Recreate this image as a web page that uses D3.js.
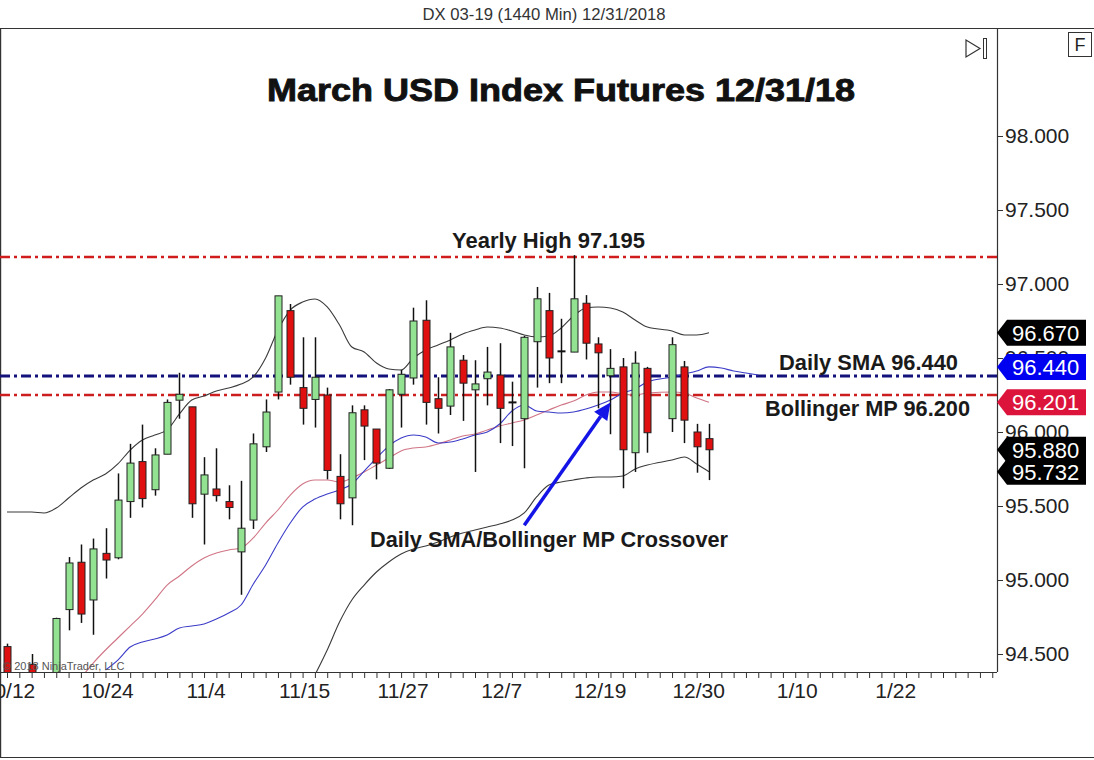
<!DOCTYPE html>
<html><head><meta charset="utf-8">
<script src="https://cdn.jsdelivr.net/npm/d3@7"></script>
<style>
html,body{margin:0;padding:0;background:#fff;}
svg{display:block;font-family:"Liberation Sans",Arial,sans-serif;}
</style></head><body>
<svg id="c" width="1094" height="760"></svg>
<script>
// ---- data (one entry per daily bar slot; null = no bar) ----
const openP  = [94.55,null,94.43,null,94.30,94.80,95.12,94.865,95.18,95.15,95.53,95.80,95.61,95.85,96.215,96.17,95.58,95.615,95.53,95.19,95.405,95.90,96.27,96.82,96.30,96.22,96.25,95.70,95.555,96.15,96.02,95.755,96.255,96.365,96.755,96.225,96.175,96.485,96.285,96.36,96.385,96.205,96.09,96.61,96.82,96.545,96.54,96.87,96.595,96.38,96.44,95.86,96.43,null,96.09,96.44,96.00,95.955];
const highP  = [94.57,null,94.50,null,94.745,95.155,95.24,95.28,95.35,95.72,95.92,96.05,95.89,96.22,96.40,96.17,95.83,95.89,95.64,95.67,95.99,96.22,96.92,96.865,96.64,96.64,96.30,95.85,96.18,96.18,96.02,96.29,96.42,96.84,96.89,96.37,96.67,96.52,96.485,96.575,96.60,96.34,96.65,96.98,96.94,96.765,97.195,96.925,96.64,96.56,96.50,96.545,96.44,null,96.64,96.48,96.055,96.055];
const lowP   = [94.20,null,94.20,null,94.20,94.66,94.71,94.63,95.01,95.14,95.42,95.49,95.57,95.85,96.09,95.42,95.24,95.53,95.41,94.90,95.345,95.865,96.22,96.32,96.05,96.03,95.68,95.41,95.37,95.81,95.68,95.75,96.03,96.32,96.05,95.99,96.115,96.075,95.73,96.18,95.925,95.905,95.755,96.30,96.33,96.33,96.54,96.49,96.16,95.985,95.62,95.73,95.86,null,96.00,95.925,95.725,95.675];
const closeP = [94.30,null,94.30,null,94.74,95.115,94.77,95.21,95.135,95.54,95.79,95.55,95.845,96.20,96.255,95.515,95.71,95.57,95.49,95.35,95.92,96.135,96.92,96.37,96.16,96.37,95.74,95.515,96.13,96.04,95.79,96.285,96.39,96.75,96.20,96.16,96.575,96.33,96.325,96.405,96.16,96.20,96.64,96.90,96.50,96.545,96.90,96.60,96.535,96.43,95.88,96.465,95.995,null,96.59,96.08,95.90,95.88];

const upperBand = [95.459,95.459,95.459,95.453,95.486,95.554,95.622,95.676,95.716,95.784,95.878,95.946,95.980,96.014,96.122,96.216,96.243,96.277,96.297,96.324,96.372,96.500,96.689,96.824,96.878,96.899,96.845,96.723,96.574,96.541,96.466,96.426,96.419,96.500,96.554,96.588,96.622,96.662,96.689,96.709,96.703,96.682,96.655,96.642,96.649,96.703,96.784,96.838,96.845,96.838,96.811,96.757,96.709,null,96.682,96.655,96.655,96.670];
const bollMid   = [null,null,null,null,null,null,94.338,94.439,94.527,94.608,94.689,94.770,94.865,94.966,95.027,95.095,95.149,95.182,95.203,95.216,95.284,95.385,95.473,95.574,95.649,95.676,95.676,95.662,95.689,95.730,95.777,95.824,95.872,95.892,95.899,95.919,95.946,95.973,95.986,96.014,96.041,96.061,96.081,96.115,96.149,96.182,96.209,96.250,96.270,96.270,96.257,96.250,96.264,null,96.270,96.264,96.230,96.201];
const dailySMA  = [null,null,null,null,null,null,null,null,94.392,94.459,94.547,94.581,94.601,94.628,94.676,94.689,94.703,94.736,94.777,94.831,94.973,95.101,95.250,95.385,95.493,95.547,95.581,95.608,95.649,95.736,95.824,95.905,95.959,95.980,95.966,95.926,95.932,95.953,95.980,96.000,96.054,96.142,96.182,96.142,96.135,96.128,96.135,96.155,96.182,96.216,96.264,96.291,96.338,null,96.372,96.392,96.412,96.440,96.432,96.412,96.399,96.385];
const lowerBand = [null,null,null,null,null,null,null,null,null,null,null,null,null,null,null,null,null,null,null,null,null,null,null,null,null,94.358,94.527,94.716,94.865,94.966,95.054,95.122,95.176,95.209,95.230,95.257,95.291,95.318,95.338,95.358,95.378,95.405,95.453,95.561,95.642,95.662,95.676,95.689,95.696,95.696,95.703,95.750,95.777,null,95.811,95.831,95.784,95.732];

const tickLabels = ["10/12","10/24","11/4","11/15","11/27","12/7","12/19","12/30","1/10","1/22"];
const priceTicks = [94.5,95.0,95.5,96.0,96.5,97.0,97.5,98.0];

const levelValues = [97.182, 96.378, 96.250];
const levelNames  = ["yearly","sma","mp"];
const annotationTexts = ["Yearly High 97.195","Daily SMA 96.440","Bollinger MP 96.200","Daily SMA/Bollinger MP Crossover"];

const badgeValues = [96.670, 96.440, 96.201, 95.732, 95.880];
const badgeKinds  = ["band","sma","mp","band","last"];

const arrowFrom = [42, 95.37];
const arrowTo   = [49, 96.20];

// ---- layout ----
const svg = d3.select("#c");
const PL = 0, PR = 997, PT = 28, PB = 672;
const x = d3.scaleLinear().domain([0,57]).range([7,709]);
const y = d3.scaleLinear().domain([94.5,98]).range([654,136]);

svg.append("rect").attr("width",1094).attr("height",760).attr("fill","#fff");

// header
svg.append("text").attr("x",544).attr("y",20).attr("text-anchor","middle")
  .attr("font-size",17).attr("fill","#333").attr("textLength",243).attr("lengthAdjust","spacingAndGlyphs")
  .text("DX 03-19 (1440 Min)  12/31/2018");

// frame lines
const frame = svg.append("g").attr("stroke","#333").attr("stroke-width",1.2).attr("fill","none");
frame.append("line").attr("x1",0).attr("x2",1094).attr("y1",28.5).attr("y2",28.5);
frame.append("line").attr("x1",0.6).attr("x2",0.6).attr("y1",28).attr("y2",758);
frame.append("line").attr("x1",0).attr("x2",1094).attr("y1",757.5).attr("y2",757.5);
frame.append("line").attr("x1",PR+0.5).attr("x2",PR+0.5).attr("y1",28).attr("y2",PB);
frame.append("line").attr("x1",0).attr("x2",PR).attr("y1",PB+0.5).attr("y2",PB+0.5);

// clip
svg.append("defs").append("clipPath").attr("id","plot").append("rect")
  .attr("x",PL).attr("y",PT).attr("width",PR-PL).attr("height",PB-PT);
const plot = svg.append("g").attr("clip-path","url(#plot)");

// title
svg.append("text").attr("x",561).attr("y",101).attr("text-anchor","middle")
  .attr("font-size",32).attr("font-weight","bold").attr("fill","#111")
  .attr("stroke","#111").attr("stroke-width",0.9)
  .attr("textLength",588).attr("lengthAdjust","spacingAndGlyphs")
  .text("March USD Index Futures 12/31/18");

// horizontal level lines
const levelStyle = {
  yearly:{color:"#d01c1c", w:2.6},
  sma:{color:"#12127a", w:3},
  mp:{color:"#cc1e1e", w:2.6}
};
levelValues.forEach((v,k)=>{
  const s = levelStyle[levelNames[k]];
  plot.append("line").attr("x1",PL).attr("x2",PR).attr("y1",y(v)).attr("y2",y(v))
    .attr("stroke",s.color).attr("stroke-width",s.w).attr("stroke-dasharray","10,4,3,4");
});

// indicator lines
function series(arr){ return arr.map((v,i)=>[i,v]).filter(d=>d[1]!=null); }
const lg = d3.line().x(d=>x(d[0])).y(d=>y(d[1])).curve(d3.curveMonotoneX);
[[upperBand,"#3a3a3a"],[lowerBand,"#3a3a3a"],[bollMid,"#d07585"],[dailySMA,"#3c3cc8"]].forEach(([arr,c])=>{
  plot.append("path").attr("d",lg(series(arr))).attr("fill","none").attr("stroke",c).attr("stroke-width",1.1);
});

// candles
const bw = 7;
const candles = openP.map((o,i)=>({i,o,h:highP[i],l:lowP[i],c:closeP[i]})).filter(d=>d.o!=null);
const cg = plot.append("g");
candles.forEach(d=>{
  const cx = Math.round(x(d.i))+0.5;
  cg.append("line").attr("x1",cx).attr("x2",cx).attr("y1",y(d.h)).attr("y2",y(d.l))
    .attr("stroke","#111").attr("stroke-width",1.5);
  if (Math.abs(d.o-d.c) < 0.006) {
    cg.append("line").attr("x1",cx-bw/2-0.5).attr("x2",cx+bw/2+0.5).attr("y1",y(d.c)).attr("y2",y(d.c))
      .attr("stroke","#111").attr("stroke-width",2);
  } else {
    const top = y(Math.max(d.o,d.c)), bot = y(Math.min(d.o,d.c));
    cg.append("rect").attr("x",cx-bw/2).attr("y",top).attr("width",bw).attr("height",Math.max(1,bot-top))
      .attr("fill", d.c>d.o ? "#92e292" : "#e01010").attr("stroke","#222").attr("stroke-width",1);
  }
});

// arrow
const ax0 = x(arrowFrom[0]), ay0 = y(arrowFrom[1]), ax1 = x(arrowTo[0]), ay1 = y(arrowTo[1]);
const ang = Math.atan2(ay1-ay0, ax1-ax0);
const hl = 17, hw = 8;
const bx = ax1 - hl*Math.cos(ang), by = ay1 - hl*Math.sin(ang);
plot.append("line").attr("x1",ax0).attr("y1",ay0).attr("x2",bx).attr("y2",by)
  .attr("stroke","#1414e6").attr("stroke-width",3.5);
plot.append("path").attr("d",`M${ax1},${ay1}L${bx+hw*Math.sin(ang)},${by-hw*Math.cos(ang)}L${bx-hw*Math.sin(ang)},${by+hw*Math.cos(ang)}Z`)
  .attr("fill","#1414e6");

// annotation texts
const annPos = [[452,248,193],[779,370,179],[765,416,205],[370,547,358]];
annotationTexts.forEach((t,k)=>{
  svg.append("text").attr("x",annPos[k][0]).attr("y",annPos[k][1])
    .attr("font-size",22).attr("font-weight","bold").attr("fill","#1a1a1a")
    .attr("textLength",annPos[k][2]).attr("lengthAdjust","spacingAndGlyphs").text(t);
});

// copyright
svg.append("text").attr("x",3).attr("y",670).attr("font-size",11).attr("fill","#555")
  .text("\u00A9 2018 NinjaTrader, LLC");

// x axis
const slots = d3.range(0,81);
const xa = svg.append("g").attr("transform",`translate(0,${PB})`)
  .call(d3.axisBottom(x).tickValues(slots).tickSize(6).tickFormat(()=>""));
xa.select(".domain").remove();
xa.selectAll("line").attr("stroke","#333");
tickLabels.forEach((t,k)=>{
  svg.append("text").attr("x",x(k*8)+2).attr("y",698).attr("text-anchor","middle")
    .attr("font-size",21).attr("fill","#222").text(t);
});

// y axis
const ya = svg.append("g").attr("transform",`translate(${PR},0)`)
  .call(d3.axisRight(y).tickValues(priceTicks).tickSize(6).tickPadding(2).tickFormat(d3.format(".3f")));
ya.select(".domain").remove();
ya.selectAll("line").attr("stroke","#333");
ya.selectAll("text").attr("font-size",21).attr("fill","#222").attr("font-family","Liberation Sans, Arial, sans-serif");

// price badges
const badgeColor = {band:"#000",sma:"#0000f0",mp:"#dc143c",last:"#000"};
badgeValues.forEach((v,k)=>{
  const yc = y(v), h = 13;
  svg.append("path").attr("d",`M${PR},${yc}L${PR+10},${yc-h}L1086,${yc-h}L1086,${yc+h}L${PR+10},${yc+h}Z`)
    .attr("fill",badgeColor[badgeKinds[k]]);
  svg.append("text").attr("x",1012).attr("y",yc).attr("dy","0.36em").attr("font-size",22)
    .attr("fill","#fff").text(d3.format(".3f")(v));
});

// toolbar icons
svg.append("path").attr("d","M966,40L966,57L980,48.5Z").attr("fill","none").attr("stroke","#333").attr("stroke-width",1.2);
svg.append("rect").attr("x",983.5).attr("y",38.5).attr("width",3).attr("height",20).attr("fill","none").attr("stroke","#333");
svg.append("rect").attr("x",1068.5).attr("y",32.5).attr("width",23).attr("height",24).attr("fill","#fff").attr("stroke","#333");
svg.append("text").attr("x",1080).attr("y",51).attr("text-anchor","middle").attr("font-size",18).attr("fill","#222").text("F");
</script>
</body></html>
